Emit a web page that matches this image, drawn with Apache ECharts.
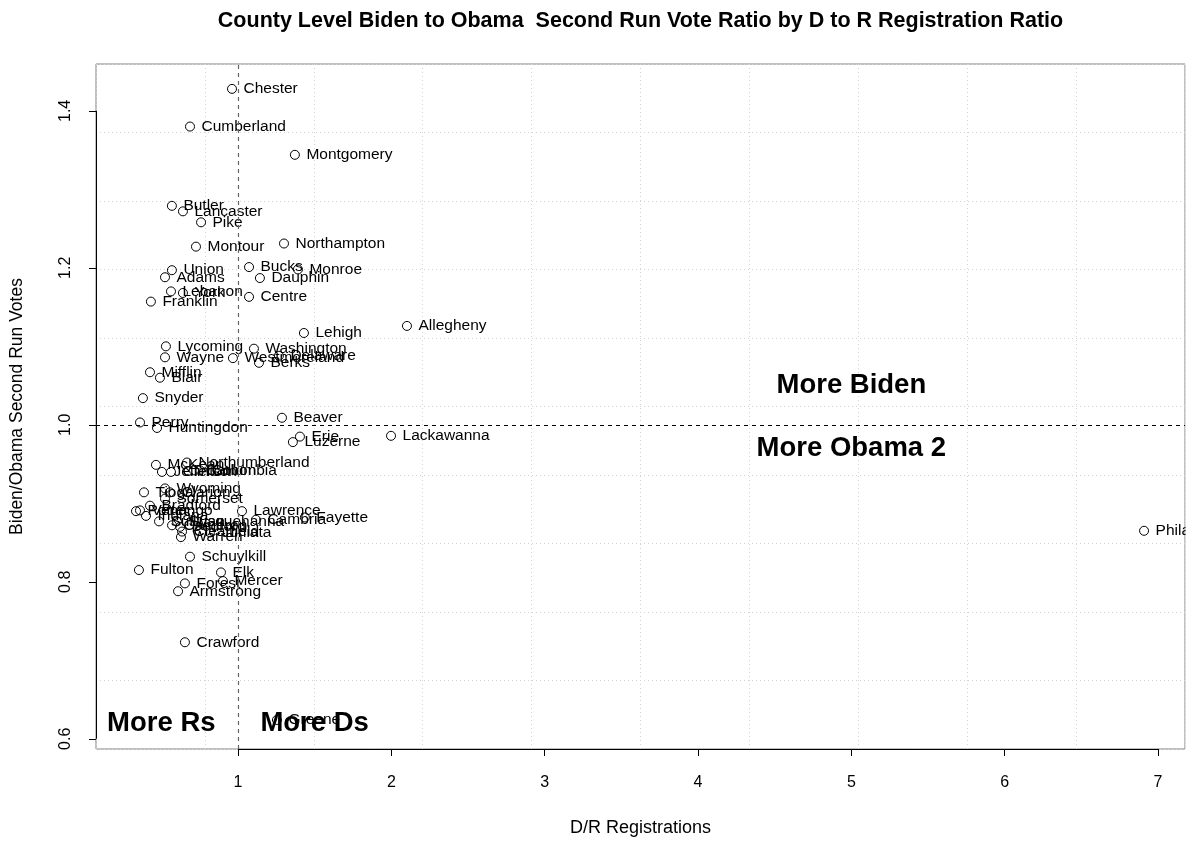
<!DOCTYPE html>
<html><head><meta charset="utf-8">
<script src="https://cdn.jsdelivr.net/npm/echarts@6/dist/echarts.min.js"></script>
<style>html,body{margin:0;padding:0;background:#fff}#c{width:1194px;height:842px}</style>
</head><body><div id="c"></div>
<script>
const counties = ['Chester','Cumberland','Montgomery','Butler','Lancaster','Pike','Montour','Northampton','Union','Bucks','Monroe','Adams','Dauphin','Lebanon','York','Franklin','Centre','Lehigh','Allegheny','Lycoming','Washington','Wayne','Westmoreland','Delaware','Berks','Mifflin','Blair','Snyder','Beaver','Perry','Huntingdon','Erie','Luzerne','Lackawanna','McKean','Northumberland','Jefferson','Clinton','Carbon','Columbia','Wyoming','Tioga','Clarion','Somerset','Bradford','Potter','Venango','Indiana','Lawrence','Fayette','Cambria','Sullivan','Susquehanna','Cameron','Bedford','Clearfield','Juniata','Warren','Philadelphia','Schuylkill','Fulton','Elk','Mercer','Forest','Armstrong','Crawford','Greene'];
const drRatio = [0.961,0.687,1.371,0.569,0.641,0.759,0.726,1.300,0.569,1.072,1.391,0.524,1.143,0.563,0.641,0.432,1.072,1.430,2.102,0.530,1.104,0.524,0.967,1.267,1.137,0.426,0.491,0.380,1.287,0.361,0.472,1.404,1.358,1.998,0.465,0.667,0.504,0.563,0.713,0.752,0.524,0.387,0.556,0.524,0.426,0.335,0.361,0.400,1.026,1.436,1.117,0.485,0.602,0.570,0.622,0.635,0.817,0.628,6.909,0.687,0.354,0.889,0.902,0.654,0.609,0.654,1.254];
const voteRatio = [1.428,1.380,1.344,1.279,1.272,1.258,1.227,1.231,1.197,1.201,1.198,1.188,1.187,1.170,1.168,1.157,1.163,1.117,1.126,1.100,1.097,1.086,1.085,1.088,1.079,1.067,1.060,1.034,1.009,1.003,0.996,0.985,0.978,0.986,0.949,0.952,0.940,0.940,0.942,0.942,0.919,0.914,0.914,0.906,0.897,0.890,0.891,0.884,0.890,0.882,0.879,0.877,0.877,0.872,0.870,0.864,0.863,0.857,0.865,0.832,0.815,0.812,0.801,0.798,0.788,0.723,0.624];
const xTicks = [1,2,3,4,5,6,7];
const yTicks = [0.6,0.8,1.0,1.2,1.4];
const annotText = ['More Biden','More Obama 2','More Rs','More Ds'];
const annotX = [5,5,0.5,1.5];
const annotY = [1.05,0.97,0.62,0.62];
const refX = 1, refY = 1;
const xRange = [0.074,7.176];
const yRange = [0.587,1.4597];

const FONT = '"Liberation Sans", Arial, Helvetica, sans-serif';
const W = 1194, H = 842;
const G = {left:96, right:9, top:64, bottom:91};
const plotW = W - G.left - G.right;
const pxPerX = plotW / (xRange[1] - xRange[0]);
const labelOffset = 11;

const pts = counties.map((n,i) => ({
  name: n,
  value: [drRatio[i], voteRatio[i]],
  label: {width: Math.max(1, (xRange[1]-drRatio[i])*pxPerX - labelOffset + 8), overflow:'truncate', ellipsis:''}
}));
const annots = annotText.map((t,i)=>({name:t, value:[annotX[i], annotY[i]]}));

const gridLine = {show:true, lineStyle:{color:'#d3d3d3', type:[1,3], width:1}};
const chart = echarts.init(document.getElementById('c'), null, {renderer:'canvas'});
chart.setOption({
  animation:false,
  backgroundColor:'#fff',
  grid:{left:G.left, right:G.right, top:G.top, bottom:G.bottom, show:true, borderColor:'#808080', borderWidth:1, backgroundColor:'transparent'},
  graphic:[
    {type:'text', x: G.left + plotW/2, y: 21, style:{text:'County Level Biden to Obama  Second Run Vote Ratio by D to R Registration Ratio', font:'bold 21.5px '+FONT, fill:'#000', textAlign:'center', textVerticalAlign:'middle'}},
    {type:'rect', z:100, silent:true, shape:{x: W - G.right + 0.6, y: G.top, width: G.right, height: H - G.top - G.bottom}, style:{fill:'#fff'}}
  ],
  xAxis:[
    {type:'value', min:xRange[0], max:xRange[1], position:'bottom',
     axisLine:{show:false}, splitLine:{show:false},
     axisTick:{show:true, customValues:xTicks, length:7, inside:false, lineStyle:{color:'#000'}},
     axisLabel:{show:true, customValues:xTicks, margin:26, fontSize:16, fontFamily:FONT, color:'#000', formatter:v=>String(Math.round(v))},
     name:'D/R Registrations', nameLocation:'middle', nameGap:70, nameTextStyle:{fontSize:18, fontFamily:FONT, color:'#000'}},
    {type:'value', min:xRange[0], max:xRange[1], interval:(xRange[1]-xRange[0])/10, show:true,
     axisLine:{show:false}, axisTick:{show:false}, axisLabel:{show:false}, splitLine:gridLine}
  ],
  yAxis:[
    {type:'value', min:yRange[0], max:yRange[1], position:'left',
     axisLine:{show:false}, splitLine:{show:false},
     axisTick:{show:true, customValues:yTicks, length:7, inside:false, lineStyle:{color:'#000'}},
     axisLabel:{show:true, customValues:yTicks, rotate:90, margin:22, fontSize:16, fontFamily:FONT, color:'#000', formatter:v=>v.toFixed(1)},
     name:'Biden/Obama Second Run Votes', nameLocation:'middle', nameGap:70, nameRotate:90, nameTextStyle:{fontSize:17.5, fontFamily:FONT, color:'#000'}},
    {type:'value', min:yRange[0], max:yRange[1], interval:(yRange[1]-yRange[0])/10, show:true,
     axisLine:{show:false}, axisTick:{show:false}, axisLabel:{show:false}, splitLine:gridLine}
  ],
  series:[
    {type:'scatter', xAxisIndex:0, yAxisIndex:0, data:pts, symbol:'circle', symbolSize:9,
     itemStyle:{color:'rgba(0,0,0,0)', borderColor:'#000', borderWidth:1, opacity:1},
     label:{show:true, position:'right', distance:6.5, formatter:p=>p.name, fontSize:15.5, fontFamily:FONT, color:'#000', opacity:1, textBorderWidth:0},
     labelLayout:{hideOverlap:false},
     emphasis:{disabled:true},
     markLine:{silent:true, symbol:'none', animation:false, label:{show:false},
       data:[
         {xAxis:refX, lineStyle:{color:'#666', type:[4,4], width:1.2}},
         {yAxis:refY, lineStyle:{color:'#000', type:[4,4], width:1}}
       ]}
    },
    {type:'scatter', xAxisIndex:0, yAxisIndex:0, data:annots, symbolSize:1, itemStyle:{color:'rgba(0,0,0,0)', opacity:1},
     label:{show:true, position:'inside', formatter:p=>p.name, fontSize:27.5, fontWeight:'bold', fontFamily:FONT, color:'#000', opacity:1, textBorderWidth:0},
     emphasis:{disabled:true},
     markLine:{silent:true, symbol:'none', animation:false, label:{show:false}, lineStyle:{color:'#000', type:'solid', width:1},
       data:[
         [{coord:[xTicks[0], yRange[0]]},{coord:[xTicks[xTicks.length-1], yRange[0]]}],
         [{coord:[xRange[0], yTicks[0]]},{coord:[xRange[0], yTicks[yTicks.length-1]]}]
       ]}
    }
  ]
});
</script></body></html>
